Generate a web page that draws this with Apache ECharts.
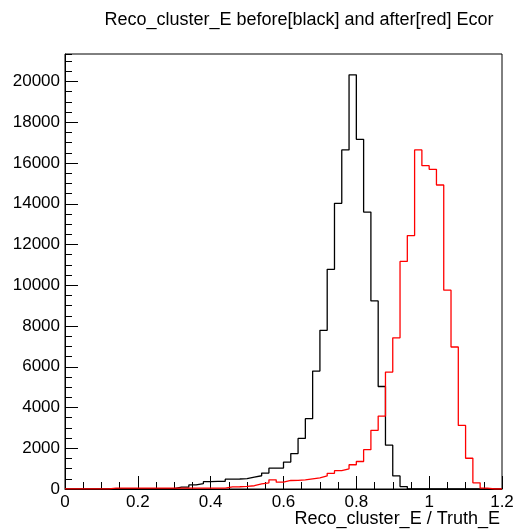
<!DOCTYPE html>
<html><head><meta charset="utf-8">
<script src="https://cdn.jsdelivr.net/npm/echarts@6/dist/echarts.min.js"></script>
<style>html,body{margin:0;padding:0;background:#fff}#c{width:515px;height:530px}</style>
</head><body><div id="c"></div>
<script>
const chartTitle = 'Reco_cluster_E before[black] and after[red] Ecor';
const xAxisTitle = 'Reco_cluster_E / Truth_E';
const binLow = 0, binWidth = 0.02, nBins = 60;
const xTickLabels = ['0', '0.2', '0.4', '0.6', '0.8', '1', '1.2'];
const yTickLabels = ['0','2000','4000','6000','8000','10000','12000','14000','16000','18000','20000'];

// counts per bin (0.00-0.02, 0.02-0.04, ...)
const before = [
  0, 0, 0, 0, 0, 0, 15, 15, 15, 15,
  15, 15, 15, 15, 15, 90, 90, 200, 260, 360,
  370, 380, 480, 490, 510, 580, 650, 780, 1020, 1030,
  1320, 1740, 2480, 3450, 5790, 7790, 10780, 14020, 16640, 20330,
  17160, 13590, 9230, 5030, 2150, 640, 120, 10, 0, 0,
  0, 0, 0, 0, 0, 0, 0, 0, 0, 0
];
const after = [
  10, 10, 10, 10, 10, 10, 40, 40, 40, 40,
  40, 40, 40, 40, 40, 40, 40, 40, 40, 40,
  40, 40, 100, 110, 130, 160, 254, 303, 451, 336,
  418, 420, 452, 500, 550, 640, 770, 900, 990, 1190,
  1350, 1930, 2880, 3580, 5740, 7420, 11170, 12440, 16640, 15870,
  15690, 14920, 9760, 6970, 3120, 1510, 305, 40, 0, 0
];

function histPoints(counts) {
  const pts = [];
  for (let i = 0; i < counts.length; i++) {
    pts.push([Math.round((binLow + i * binWidth) * 1000) / 1000, counts[i]]);
  }
  pts.push([Math.round((binLow + counts.length * binWidth) * 1000) / 1000, counts[counts.length - 1]]);
  return pts;
}

const yMax = 21350;
const font = '"Liberation Sans", Arial, Helvetica, sans-serif';
const chart = echarts.init(document.getElementById('c'), null, {renderer: 'canvas'});
chart.setOption({
  animation: false,
  backgroundColor: '#fff',
  title: [
    {text: chartTitle, left: 299, top: 11, textAlign: 'center', padding: 0,
     textStyle: {fontFamily: font, fontSize: 18, fontWeight: 'normal', color: '#000'}},
    {text: xAxisTitle, right: 15, top: 510, padding: 0,
     textStyle: {fontFamily: font, fontSize: 18, fontWeight: 'normal', color: '#000'}}
  ],
  grid: {left: 65, right: 13, top: 54, bottom: 41, show: true, borderColor: '#000', borderWidth: 1,
         outerBoundsMode: 'none', containLabel: false},
  xAxis: {
    type: 'value', min: 0, max: 1.2, interval: 0.2,
    axisLine: {show: true, lineStyle: {color: '#000', width: 1}},
    axisTick: {show: true, inside: true, length: 13, lineStyle: {color: '#000'}},
    minorTick: {show: true, splitNumber: 4, length: 7, lineStyle: {color: '#000'}},
    splitLine: {show: false},
    axisLabel: {color: '#000', fontFamily: font, fontSize: 17, margin: 5,
      formatter: v => xTickLabels[Math.round(v / 0.2)] ?? ''}
  },
  yAxis: [
    {
      type: 'value', min: 0, max: yMax, interval: 2000, position: 'left',
      axisLine: {show: true, lineStyle: {color: '#000', width: 1}},
      axisTick: {show: true, inside: true, length: 13, lineStyle: {color: '#000'}},
      splitLine: {show: false},
      axisLabel: {color: '#000', fontFamily: font, fontSize: 17, margin: 5, showMaxLabel: false,
        formatter: v => (v % 2000 === 0 ? yTickLabels[v / 2000] ?? '' : '')}
    },
    {
      type: 'value', min: 0, max: yMax, interval: 500, position: 'left', offset: 0,
      axisLine: {show: false},
      axisTick: {show: true, inside: true, length: 7, lineStyle: {color: '#000'}},
      splitLine: {show: false},
      axisLabel: {show: false}
    }
  ],
  series: [
    {type: 'line', step: 'end', data: histPoints(before), symbol: 'none', yAxisIndex: 0,
     lineStyle: {color: '#000', width: 1.3}, z: 3},
    {type: 'line', step: 'end', data: histPoints(after), symbol: 'none', yAxisIndex: 0,
     lineStyle: {color: '#ff0000', width: 1.3}, z: 4},
    {type: 'line', data: [], yAxisIndex: 1}
  ]
});
</script></body></html>
